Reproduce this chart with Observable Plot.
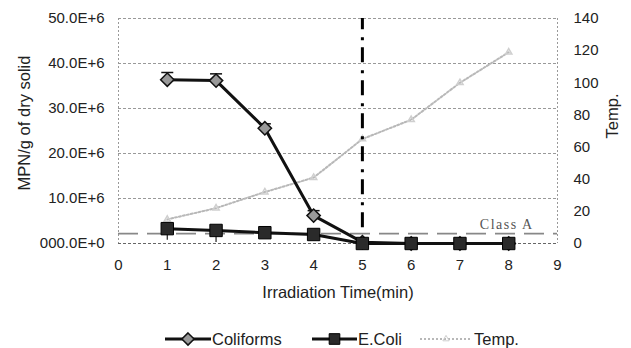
<!DOCTYPE html>
<html><head><meta charset="utf-8">
<script src="https://cdn.jsdelivr.net/npm/d3@7"></script>
<script src="https://cdn.jsdelivr.net/npm/@observablehq/plot@0.6"></script>
<style>
body{margin:0;background:#fff;font-family:"Liberation Sans",Arial,sans-serif;color:#222;}
#wrap{position:relative;width:631px;height:348px;overflow:hidden;}
#legend{position:absolute;left:0;top:320px;width:631px;height:28px;}
#legend .sym{position:absolute;top:11px;}
#legend .lab{position:absolute;top:10px;font-size:16.5px;line-height:18px;color:#222;}
</style></head><body>
<div id="wrap"><div id="chart"></div><div id="legend"></div></div>
<script>
// ---- data ----
const times = [1, 2, 3, 4, 5, 6, 7, 8];
const coliforms = [36.4e6, 36.2e6, 25.6e6, 6.2e6, 0.3e6, 0, 0, 0];
const coliformErr = [1.6e6, 1.5e6, 1.0e6, 1.1e6, 0, 0, 0, 0];
const ecoli = [3.3e6, 2.9e6, 2.4e6, 2.0e6, 0, 0, 0, 0];
const ecoliErr = [2.6e6, 2.7e6, 0, 0, 0, 0, 0, 0];
const temp = [15, 22, 32, 41, 65, 77, 100, 119];
const classALimit = 2.2e6;
const cutoffTime = 5;
const cutoffLineBottom = 3.5e6;

const xTicks = [0, 1, 2, 3, 4, 5, 6, 7, 8, 9];
const leftTicks = [0, 10e6, 20e6, 30e6, 40e6, 50e6];
const leftLabels = ["000.0E+0", "10.0E+6", "20.0E+6", "30.0E+6", "40.0E+6", "50.0E+6"];
const tempTicks = [0, 20, 40, 60, 80, 100, 120, 140];

const xTitle = "Irradiation Time(min)";
const yTitle = "MPN/g of dry solid";
const y2Title = "Temp.";
const seriesNames = ["Coliforms", "E.Coli", "Temp."];

// ---- build table ----
const yMax = 50e6, tempMax = 140;
const toY = t => t * yMax / tempMax;
const rows = times.map((t, i) => ({
  t, coliforms: coliforms[i], colErr: coliformErr[i],
  ecoli: ecoli[i], ecErr: ecoliErr[i], temp: temp[i]
}));

const capSymbol = {
  draw(ctx, size) { const w = Math.sqrt(size / Math.PI); ctx.moveTo(-w, 0); ctx.lineTo(w, 0); }
};

const chart = Plot.plot({
  width: 631, height: 320,
  marginLeft: 118, marginRight: 74, marginTop: 18, marginBottom: 77,
  style: {fontFamily: "'Liberation Sans', Arial, sans-serif", fontSize: "15px", color: "#222", background: "#fff"},
  x: {domain: [0, 9]},
  y: {domain: [0, yMax]},
  marks: [
    Plot.ruleY(leftTicks.filter(d => d > 0), {stroke: "#999", strokeWidth: 1, strokeDasharray: "3,2"}),
    Plot.ruleY([0], {stroke: "#666", strokeWidth: 1, strokeDasharray: "3,2"}),
    Plot.ruleX([0], {stroke: "#999", strokeWidth: 1, strokeDasharray: "2,2"}),
    Plot.ruleX([9], {stroke: "#999", strokeWidth: 1, strokeDasharray: "2,2"}),
    Plot.ruleY([classALimit], {stroke: "#888", strokeWidth: 1.8, strokeDasharray: "20,9"}),
    Plot.text([{label: "Class A", v: classALimit}], {
      text: "label", y: "v", frameAnchor: "right", dx: -24, dy: -9,
      textAnchor: "end", fontFamily: "'Liberation Serif', serif", fontSize: 14, fill: "#555"
    }),
    // axes
    Plot.axisY(leftTicks, {anchor: "left", tickSize: 0, tickPadding: 14, label: null,
      tickFormat: d => leftLabels[leftTicks.indexOf(d)], fontSize: 15}),
    Plot.axisY(tempTicks.map(toY), {anchor: "right", tickSize: 0, tickPadding: 16, label: null,
      tickFormat: d => String(Math.round(d * tempMax / yMax)), fontSize: 15}),
    Plot.axisX(xTicks, {anchor: "bottom", tickSize: 0, tickPadding: 16, label: null, fontSize: 15}),
    // titles
    Plot.text([xTitle], {frameAnchor: "bottom", dy: 54, fontSize: 16.5, fill: "#222"}),
    Plot.text([yTitle], {frameAnchor: "left", textAnchor: "middle", dx: -94, dy: -8, rotate: -90, fontSize: 16.5, fill: "#222"}),
    Plot.text([y2Title], {frameAnchor: "right", textAnchor: "middle", dx: 55, dy: -15, rotate: -90, fontSize: 16.5, fill: "#222"}),
    // temperature
    Plot.line(rows, {x: "t", y: d => toY(d.temp), stroke: "#b8b8b8", strokeWidth: 2, strokeDasharray: "2,2"}),
    Plot.dot(rows, {x: "t", y: d => toY(d.temp), symbol: "triangle2", r: 3, stroke: "#cfcfcf", fill: "none"}),
    // cutoff line
    Plot.ruleX([cutoffTime], {y1: cutoffLineBottom, y2: yMax, stroke: "#000", strokeWidth: 3, strokeDasharray: "15,7,3,8"}),
    // coliforms
    Plot.line(rows, {x: "t", y: "coliforms", stroke: "#111", strokeWidth: 3}),
    Plot.ruleX(rows.filter(d => d.colErr > 0), {x: "t", y1: "coliforms", y2: d => d.coliforms + d.colErr, stroke: "#111", strokeWidth: 1.5}),
    Plot.dot(rows.filter(d => d.colErr > 0), {x: "t", y: d => d.coliforms + d.colErr, symbol: capSymbol, r: 6, stroke: "#111", strokeWidth: 1.5, fill: "none"}),
    Plot.dot(rows, {x: "t", y: "coliforms", symbol: "diamond2", r: 6, fill: "#999", stroke: "#111", strokeWidth: 1.5}),
    // E.coli
    Plot.ruleX(rows.filter(d => d.ecErr > 0), {x: "t", y1: d => d.ecoli - d.ecErr, y2: "ecoli", stroke: "#222", strokeWidth: 1.2}),
    Plot.line(rows, {x: "t", y: "ecoli", stroke: "#111", strokeWidth: 3}),
    Plot.dot(rows, {x: "t", y: "ecoli", symbol: "square", r: 7, fill: "#2a2a2a", stroke: "#000", strokeWidth: 1})
  ]
});
chart.querySelectorAll("text").forEach(t => { if (t.textContent === "Class A") t.setAttribute("letter-spacing", "1.5"); });
document.getElementById("chart").appendChild(chart);

// ---- legend ----
const legend = document.getElementById("legend");
const items = [
  {name: seriesNames[0], symLeft: 165, symW: 46, labLeft: 212, kind: "diamond"},
  {name: seriesNames[1], symLeft: 312, symW: 45, labLeft: 358, kind: "square"},
  {name: seriesNames[2], symLeft: 420, symW: 52, labLeft: 474, kind: "temp"}
];
items.forEach(it => {
  const s = d3.create("svg").attr("class", "sym").attr("width", it.symW).attr("height", 16)
    .style("left", it.symLeft + "px");
  const cx = it.symW / 2;
  if (it.kind === "temp") {
    s.append("line").attr("x1", 0).attr("x2", it.symW).attr("y1", 8).attr("y2", 8)
      .attr("stroke", "#b8b8b8").attr("stroke-width", 2).attr("stroke-dasharray", "2,2");
    s.append("path").attr("d", d3.symbol(d3.symbolTriangle2, Math.PI * 9)()).attr("transform", `translate(${cx},8)`)
      .attr("fill", "none").attr("stroke", "#cfcfcf");
  } else {
    s.append("line").attr("x1", 0).attr("x2", it.symW).attr("y1", 8).attr("y2", 8)
      .attr("stroke", "#111").attr("stroke-width", 3);
    if (it.kind === "diamond") {
      s.append("path").attr("d", d3.symbol(d3.symbolDiamond2, Math.PI * 30)()).attr("transform", `translate(${cx},8)`)
        .attr("fill", "#999").attr("stroke", "#111").attr("stroke-width", 1.5);
    } else {
      s.append("path").attr("d", d3.symbol(d3.symbolSquare, Math.PI * 36)()).attr("transform", `translate(${cx},8)`)
        .attr("fill", "#2a2a2a").attr("stroke", "#000");
    }
  }
  legend.appendChild(s.node());
  const l = document.createElement("div");
  l.className = "lab"; l.textContent = it.name; l.style.left = it.labLeft + "px";
  legend.appendChild(l);
});
</script>
</body></html>
